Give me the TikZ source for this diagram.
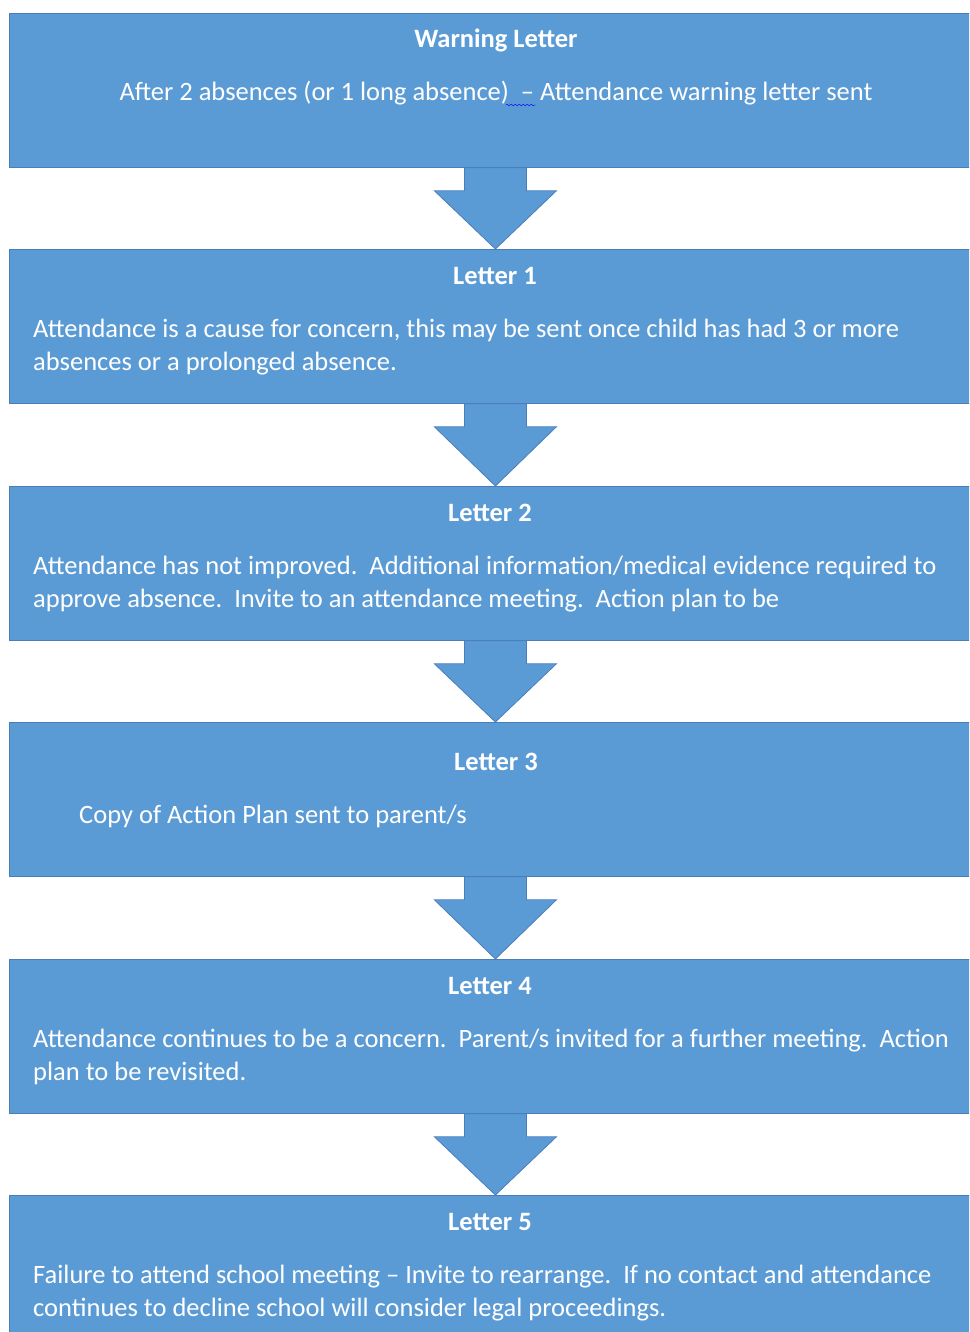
\documentclass[tikz,border=0pt]{standalone}
\usepackage{fontspec}
\setmainfont{Carlito}
\usetikzlibrary{calc}
\usetikzlibrary{decorations.pathmorphing}
\definecolor{boxblue}{HTML}{5B9BD5}
\definecolor{edgeblue}{HTML}{4A7EBB}
\tikzstyle{letter} = [draw=edgeblue, fill=boxblue, line width=0.8pt, minimum width=972pt, minimum height=154pt, anchor=north west, inner sep=0]
\tikzstyle{head} = [text=white, font=\fontsize{26.5}{33}\selectfont\bfseries, inner sep=0, anchor=base]
\tikzstyle{body} = [text=white, font=\fontsize{26.5}{33}\selectfont, inner sep=0, anchor=base west, align=left]
\tikzstyle{blockarrow} = [draw=edgeblue, fill=boxblue, line width=0.8pt, line join=miter]
\newcommand{\downblock}[2]{%
  \draw [blockarrow] ($(#1.south)+(-31,0)$) -- ($(#1.south)+(-31,23)$) -- ($(#1.south)+(-61,23)$)
    -- (#2.north) -- ($(#1.south)+(61,23)$) -- ($(#1.south)+(31,23)$) -- ($(#1.south)+(31,0)$) -- cycle;}
\frenchspacing

\begin{document}
\begin{tikzpicture}[x=1pt, y=-1pt]
\useasboundingbox (0,0) rectangle (969,1332);
\clip (0,0) rectangle (969,1332);
\node [letter] (warn) at (9,13) {};
\node [letter] (let1) at (9,249) {};
\node [letter] (let2) at (9,486) {};
\node [letter] (let3) at (9,722) {};
\node [letter] (let4) at (9,959) {};
\node [letter, minimum height=180pt] (let5) at (9,1195) {};
\downblock{warn}{let1}
\downblock{let1}{let2}
\downblock{let2}{let3}
\downblock{let3}{let4}
\downblock{let4}{let5}
% titles
\node [head] (warnt) at (496,48) {Warning Letter};
\node [head] (let1t) at (495,284) {Letter 1};
\node [head] (let2t) at (490,521) {Letter 2};
\node [head] (let3t) at (496,770) {Letter 3};
\node [head] (let4t) at (490,994) {Letter 4};
\node [head] (let5t) at (490,1230) {Letter 5};
% texts (base = last line)
\node [body, anchor=base] (warnb) at (496,101) {After 2 absences (or 1 long absence)\ \ – Attendance warning letter sent};
\draw [blue, decorate, decoration={snake, amplitude=0.9pt, segment length=4pt}] (506,105) -- (536,105);
\node [body] (let1b) at (33,370) {Attendance is a cause for concern, this may be sent once child has had 3 or more\\absences or a prolonged absence.};
\node [body] (let2b) at (33,607) {Attendance has not improved.\ \ Additional information/medical evidence required to\\approve absence.\ \ Invite to an attendance meeting.\ \ Action plan to be};
\node [body] (let3b) at (79,823) {Copy of Action Plan sent to parent/s};
\node [body] (let4b) at (33,1080) {Attendance continues to be a concern.\ \ Parent/s invited for a further meeting.\ \ Action\\plan to be revisited.};
\node [body] (let5b) at (33,1316) {Failure to attend school meeting – Invite to rearrange.\ \ If no contact and attendance\\continues to decline school will consider legal proceedings.};
\end{tikzpicture}
\end{document}
